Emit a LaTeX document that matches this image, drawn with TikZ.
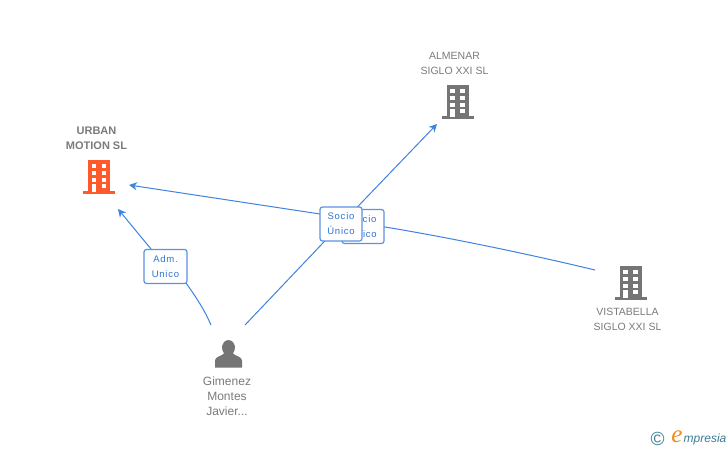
\documentclass[tikz,border=0pt]{standalone}
\usepackage{fontspec}
\setmainfont{Liberation Sans}
\newfontfamily\logoserif{Liberation Serif}
\usetikzlibrary{arrows.meta}
\definecolor{linkblue}{HTML}{3F82E0}
\definecolor{boxblue}{HTML}{5B93E3}
\definecolor{txtblue}{HTML}{2F74D0}
\definecolor{icongray}{HTML}{757575}
\definecolor{lblgray}{HTML}{7B7B7B}
\definecolor{orangeicon}{HTML}{FF5A2C}
\definecolor{logoblue}{HTML}{3A7C96}
\definecolor{logoorange}{HTML}{F08A1D}
\tikzset{
  lbl/.style={text=lblgray,font=\fontsize{10.5}{15}\selectfont,align=center,inner sep=0pt},
  boldlbl/.style={lbl,font=\fontsize{11}{15}\selectfont\bfseries},
  perslbl/.style={lbl,font=\fontsize{12}{15}\selectfont},
  rel/.style={draw=boxblue,line width=1.2pt,rounded corners=2.5pt,fill=white,text=txtblue,
    font=\fontsize{9.5}{15}\selectfont\addfontfeature{LetterSpace=8},align=center,inner sep=0pt,
    minimum width=42pt,minimum height=34pt},
  link/.style={draw=linkblue,line width=1pt},
  arr/.style={link,-{Stealth[length=8pt,width=8pt]}}
}
\newcommand{\bldg}[3]{%
  \begin{scope}[shift={(#1,#2)}]
    \fill[#3] (0,0) rectangle (22,31.5);
    \fill[#3] (-5,30.5) rectangle (27,33.5);
    \foreach \yy in {4,11,17.5}{
      \fill[white] (3.5,\yy) rectangle (8,\yy+4);
      \fill[white] (13.5,\yy) rectangle (18,\yy+4);
    }
    \fill[white] (3.5,24) rectangle (8,31.5);
    \fill[white] (13.5,24) rectangle (18,28);
  \end{scope}}
\begin{document}
\begin{tikzpicture}[x=1pt,y=-1pt]
\useasboundingbox (0,0) rectangle (728,450);
\fill[white] (0,0) rectangle (728,450);

% labels
\node[boldlbl] (urban) at (96.5,138) {URBAN\\MOTION SL};
\node[lbl] (almenar) at (454.5,63.5) {ALMENAR\\SIGLO XXI SL};
\node[lbl] (vista) at (627.5,319) {VISTABELLA\\SIGLO XXI SL};
\node[perslbl] (person) at (227,396) {Gimenez\\Montes\\Javier...};

% icons
\bldg{88}{160}{orangeicon}
\bldg{446.5}{85}{icongray}
\bldg{619.5}{266}{icongray}
\fill[icongray] (215,367.5) -- (215,360.5)
  .. controls (215,356.5) and (222,356) .. (224,353.5)
  .. controls (221,350) and (220.5,341) .. (228.5,340)
  .. controls (236.5,341) and (236,350) .. (233,353.5)
  .. controls (235,356) and (242,356.5) .. (242,360.5)
  -- (242,367.5) -- cycle;

% anchors for the connectors
\coordinate (urbanin1) at (129,185);
\coordinate (urbanin2) at (118,209);
\coordinate (almin) at (437,124);
\coordinate (vistaout) at (595,270);
\coordinate (persA) at (211,325);
\coordinate (persB) at (245,325);
\coordinate (vistamid) at (385,227);

% connectors
\draw[arr] (vistaout) .. controls (520,252) and (440,236) .. (vistamid) -- (320,214) -- (urbanin1);
\draw[arr] (persB) -- (341,224) -- (almin);
\draw[arr] (persA) .. controls (204,309) and (196,297) .. (186,283) -- (165,266) -- (urbanin2);

% relation boxes
\node[rel] (r3) at (363,226.5) {Socio\\Único};
\node[rel] (r2) at (341,224) {Socio\\Único};
\node[rel,minimum width=43pt] (r1) at (165.5,266.5) {Adm.\\Unico};

% logo
\node[text=logoblue,font=\fontsize{19}{19}\selectfont,inner sep=0pt] (copy) at (657.5,438.5) {©};
\node[text=logoorange,font=\fontsize{25}{25}\logoserif\itshape,inner sep=0pt] (logoe) at (677,436.5) {e};
\node[text=logoblue,font=\fontsize{12}{12}\selectfont\itshape,inner sep=0pt,anchor=west] (logot) at (683.5,439.5) {mpresia};
\end{tikzpicture}
\end{document}
